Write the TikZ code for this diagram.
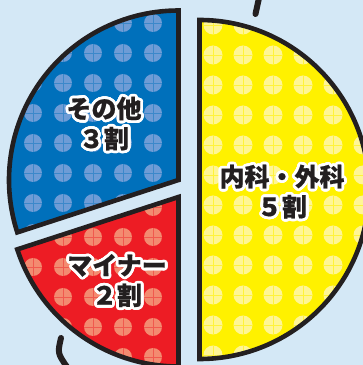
\documentclass[tikz,border=0pt]{standalone}
\usepackage{fontspec}
\usepackage{contour}
\newfontfamily\jpfont{Noto Sans CJK JP Black}[FakeBold=0.6]
\usetikzlibrary{positioning}
\definecolor{bgblue}{RGB}{212,232,246}
\definecolor{pieblue}{RGB}{0,112,187}
\definecolor{piered}{RGB}{237,28,36}
\definecolor{pieyellow}{RGB}{255,241,0}
\definecolor{dotblue}{RGB}{110,156,214}
\definecolor{dotred}{RGB}{243,139,112}
\definecolor{dotyellow}{RGB}{255,246,150}
\definecolor{ink}{RGB}{35,31,32}
\contourlength{2.8pt}
\contournumber{24}

\begin{document}
\begin{tikzpicture}[
    x=1pt, y=1pt,
    edge/.style={draw=ink, line width=4.6pt, line join=miter},
    deco/.style={draw=ink, line width=6pt, line cap=round},
    dot/.style={fill=#1},
    cross/.style={draw=#1, line width=0.7pt},
    label/.style={text=ink, align=center, font=\jpfont\fontsize{25}{30}\selectfont, inner sep=0pt}
  ]
    \useasboundingbox (0,0) rectangle (363,365);
    \fill[bgblue] (0,0) rectangle (363,365);

    % decorative strokes
    \coordinate (topA) at (259,367);
    \coordinate (topB) at (255.5,351);
    \coordinate (botA) at (61,27);
    \coordinate (botB) at (67,-2);
    \draw[deco] (topA) .. controls (257.5,359) .. (topB);
    \draw[deco] (botA) .. controls (57.5,12) .. (botB);

    % yellow half
    \begin{scope}
      \clip (199.5,345) arc (90:-90:169.5) -- cycle;
      \fill[pieyellow] (199.5,345) arc (90:-90:169.5) -- cycle;
      \foreach \px in {213,243,...,363}
        \foreach \py in {10,40,...,340} {
          \fill[dot=dotyellow] (\px,\py) circle (9.5);
          \draw[cross=pieyellow!60!dotyellow] (\px-9.5,\py) -- (\px+9.5,\py) (\px,\py-9.5) -- (\px,\py+9.5);
        }
    \end{scope}
    \draw[edge] (199.5,345) arc (90:-90:169.5) -- cycle;

    % blue sector
    \begin{scope}
      \clip (178.5,185) -- ++(90:169.5) arc (90:198:169.5) -- cycle;
      \fill[pieblue] (178.5,185) -- ++(90:169.5) arc (90:198:169.5) -- cycle;
      \foreach \px in {33,63,...,153}
        \foreach \py in {132,162,...,342} {
          \fill[dot=dotblue] (\px,\py) circle (9);
          \draw[cross=pieblue!45!dotblue] (\px-9,\py) -- (\px+9,\py) (\px,\py-9) -- (\px,\py+9);
        }
    \end{scope}
    \draw[edge] (178.5,185) -- ++(90:169.5) arc (90:198:169.5) -- cycle;

    % red sector
    \begin{scope}
      \clip (178.5,168) -- ++(198:169.5) arc (198:270:169.5) -- cycle;
      \fill[piered] (178.5,168) -- ++(198:169.5) arc (198:270:169.5) -- cycle;
      \foreach \px in {33,63,...,153}
        \foreach \py in {8,38,...,158} {
          \fill[dot=dotred] (\px,\py) circle (9);
          \draw[cross=piered!45!dotred] (\px-9,\py) -- (\px+9,\py) (\px,\py-9) -- (\px,\py+9);
        }
    \end{scope}
    \draw[edge] (178.5,168) -- ++(198:169.5) arc (198:270:169.5) -- cycle;

    \node[label] (other) at (104,240) {\contour{white}{その他}\\\contour{white}{３割}};
    \node[label] (naigeka) at (282,172) {\contour{white}{内科・外科}\\\contour{white}{５割}};
    \node[label] (minor) at (117,83) {\contour{white}{マイナー}\\\contour{white}{２割}};
\end{tikzpicture}
\end{document}
